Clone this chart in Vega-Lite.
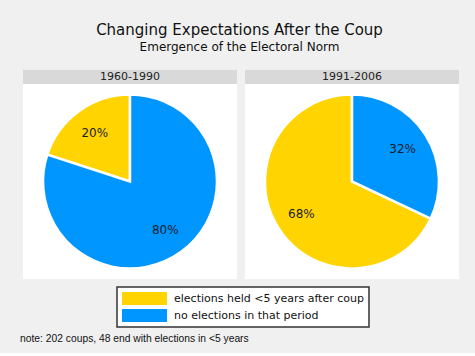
{
  "$schema": "https://vega.github.io/schema/vega-lite/v6.json",
  "background": "#f0f0f0",
  "padding": {"left": 20, "top": 23, "right": 16, "bottom": 8},
  "title": {
    "text": "Changing Expectations After the Coup",
    "subtitle": "Emergence of the Electoral Norm",
    "anchor": "middle",
    "font": "DejaVu Sans",
    "fontSize": 15,
    "fontWeight": "normal",
    "color": "#111111",
    "subtitleFont": "DejaVu Sans",
    "subtitleFontSize": 12,
    "subtitleColor": "#111111",
    "subtitlePadding": 4,
    "offset": 17
  },
  "datasets": {
    "pies": [
      {"period": "1960-1990", "outcome": "elections held <5 years after coup", "share": 0.2},
      {"period": "1960-1990", "outcome": "no elections in that period", "share": 0.8},
      {"period": "1991-2006", "outcome": "elections held <5 years after coup", "share": 0.68},
      {"period": "1991-2006", "outcome": "no elections in that period", "share": 0.32}
    ],
    "periods": [
      {"period": "1960-1990"},
      {"period": "1991-2006"}
    ]
  },
  "vconcat": [
    {
      "title": {
        "text": "note: 202 coups, 48 end with elections in <5 years",
        "orient": "bottom",
        "anchor": "start",
        "font": "Liberation Sans",
        "fontSize": 10.3,
        "fontWeight": "normal",
        "color": "#111111",
        "offset": 55,
        "dx": -3
      },
      "hconcat": [
        {
          "spacing": 0,
          "vconcat": [
            {
              "width": 214,
              "height": 14,
              "view": {"fill": "#d9d9d9", "stroke": null},
              "data": {"name": "periods"},
              "transform": [{"filter": "datum.period == '1960-1990'"}],
              "mark": {"type": "text", "font": "DejaVu Sans", "fontSize": 11, "color": "#222222"},
              "encoding": {"text": {"field": "period", "type": "nominal"}}
            },
            {
              "width": 214,
              "height": 195,
              "view": {"fill": "white", "stroke": null},
              "data": {"name": "pies"},
              "transform": [{"filter": "datum.period == '1960-1990'"}],
              "encoding": {
                "theta": {"field": "share", "type": "quantitative", "stack": true},
                "order": {"field": "outcome", "sort": "descending"}
              },
              "layer": [
                {
                  "mark": {"type": "arc", "outerRadius": 87, "stroke": "white", "strokeWidth": 2.5},
                  "encoding": {
                    "color": {
                      "field": "outcome",
                      "type": "nominal",
                      "scale": {"domain": ["elections held <5 years after coup", "no elections in that period"], "range": ["#ffd400", "#0096ff"]}
                    }
                  }
                },
                {
                  "mark": {"type": "text", "radius": 60, "font": "DejaVu Sans", "fontSize": 12, "color": "#1c1c2a"},
                  "encoding": {"text": {"field": "share", "type": "quantitative", "format": ".0%"}}
                }
              ]
            }
          ]
        },
        {
          "spacing": 0,
          "vconcat": [
            {
              "width": 214,
              "height": 14,
              "view": {"fill": "#d9d9d9", "stroke": null},
              "data": {"name": "periods"},
              "transform": [{"filter": "datum.period == '1991-2006'"}],
              "mark": {"type": "text", "font": "DejaVu Sans", "fontSize": 11, "color": "#222222"},
              "encoding": {"text": {"field": "period", "type": "nominal"}}
            },
            {
              "width": 214,
              "height": 195,
              "view": {"fill": "white", "stroke": null},
              "data": {"name": "pies"},
              "transform": [{"filter": "datum.period == '1991-2006'"}],
              "encoding": {
                "theta": {"field": "share", "type": "quantitative", "stack": true},
                "order": {"field": "outcome", "sort": "descending"}
              },
              "layer": [
                {
                  "mark": {"type": "arc", "outerRadius": 87, "stroke": "white", "strokeWidth": 2.5},
                  "encoding": {
                    "color": {
                      "field": "outcome",
                      "type": "nominal",
                      "scale": {"domain": ["elections held <5 years after coup", "no elections in that period"], "range": ["#ffd400", "#0096ff"]}
                    }
                  }
                },
                {
                  "mark": {"type": "text", "radius": 60, "font": "DejaVu Sans", "fontSize": 12, "color": "#1c1c2a"},
                  "encoding": {"text": {"field": "share", "type": "quantitative", "format": ".0%"}}
                }
              ]
            }
          ]
        }
      ],
      "spacing": 8
    }
  ],
  "config": {
    "legend": {
      "orient": "none",
      "legendX": 94,
      "legendY": 217,
      "direction": "vertical",
      "title": null,
      "fillColor": "white",
      "strokeColor": "#333333",
      "strokeWidth": 1.5,
      "padding": 5,
      "symbolType": "M-3.46,-1H3.46V1H-3.46Z",
      "symbolSize": 169,
      "symbolOffset": 16,
      "symbolStrokeWidth": 0,
      "symbolOpacity": 1,
      "labelFont": "DejaVu Sans",
      "labelFontSize": 11,
      "labelColor": "#111111",
      "labelOffset": 23,
      "labelLimit": 0,
      "rowPadding": 4
    }
  }
}
